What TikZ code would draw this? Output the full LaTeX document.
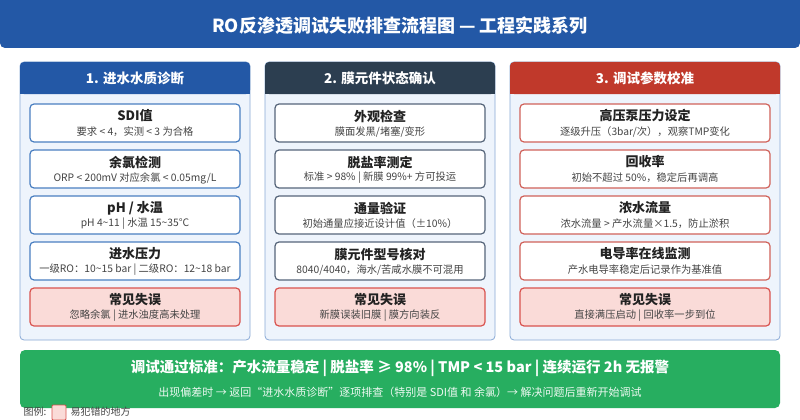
\documentclass[tikz,border=0pt]{standalone}
\usepackage{fontspec}
\setmainfont{Noto Sans CJK SC}
\usetikzlibrary{positioning}
\definecolor{hdrblue}{HTML}{2358A6}
\definecolor{hdrdark}{HTML}{2C3E50}
\definecolor{hdrred}{HTML}{C0392B}
\definecolor{panelbg}{HTML}{EEF4FC}
\definecolor{panelln}{HTML}{8AAAD6}
\definecolor{lnblue}{HTML}{4A7FC1}
\definecolor{lndark}{HTML}{56657A}
\definecolor{lnred}{HTML}{D0625A}
\definecolor{errbg}{HTML}{FADBD8}
\definecolor{errln}{HTML}{D9534F}
\definecolor{okgreen}{HTML}{27AE60}
\definecolor{txt}{HTML}{222222}
\definecolor{subtxt}{HTML}{444444}

\tikzset{
  panel/.style={draw=panelln, fill=panelbg, rounded corners=4pt, line width=0.8pt},
  itembox/.style={draw=#1, fill=white, rounded corners=4pt, line width=1.2pt},
  errbox/.style={draw=errln, fill=errbg, rounded corners=4pt, line width=1.2pt},
  head/.style={font=\fontsize{13}{15}\selectfont\bfseries, text=txt},
  sub/.style={font=\fontsize{10.3}{12}\selectfont, text=subtxt},
}

% one card: x-left, x-right, y-top, colour, title, subtitle
\newcommand{\card}[6]{
  \draw[itembox=#4] (#1,#3) rectangle (#2,#3+38);
  \node[head] at ({(#1+#2)/2},#3+12) {#5};
  \node[sub] at ({(#1+#2)/2},#3+28) {#6};
}
\newcommand{\errcard}[5]{
  \draw[errbox] (#1,#3) rectangle (#2,#3+38);
  \node[head] at ({(#1+#2)/2},#3+12) {#4};
  \node[sub] at ({(#1+#2)/2},#3+28) {#5};
}
\newcommand{\colpanel}[5]{
  \draw[panel] (#1,62) rectangle (#2,340);
  \fill[#3, rounded corners=4pt] (#1,62) rectangle (#2,94);
  \fill[#3] (#1,84) rectangle (#2,94);
  \node[font=\fontsize{13.5}{15}\selectfont\bfseries, text=white] (#5) at ({(#1+#2)/2},78) {#4};
}

\begin{document}
\begin{tikzpicture}[x=1pt, y=-1pt]
  \useasboundingbox (0,0) rectangle (800,420);
  \fill[white] (0,0) rectangle (800,420);

  % title band
  \fill[hdrblue, rounded corners=5pt] (0,0) rectangle (800,48);
  \fill[hdrblue] (0,0) rectangle (800,10);
  \node[font=\fontsize{18}{20}\selectfont\bfseries, text=white] (title) at (400,26) {RO反渗透调试失败排查流程图 — 工程实践系列};

  % column 1
  \colpanel{20}{250}{hdrblue}{1. 进水水质诊断}{colA}
  \card{30}{240}{104}{lnblue}{SDI值}{要求 < 4，实测 < 3 为合格}
  \card{30}{240}{150}{lnblue}{余氯检测}{ORP < 200mV 对应余氯 < 0.05mg/L}
  \card{30}{240}{196}{lnblue}{pH / 水温}{pH 4\textasciitilde11 | 水温 15\textasciitilde35°C}
  \card{30}{240}{242}{lnblue}{进水压力}{一级RO：10\textasciitilde15 bar | 二级RO：12\textasciitilde18 bar}
  \errcard{30}{240}{288}{常见失误}{忽略余氯 | 进水浊度高未处理}

  % column 2
  \colpanel{265}{495}{hdrdark}{2. 膜元件状态确认}{colB}
  \card{275}{485}{104}{lndark}{外观检查}{膜面发黑/堵塞/变形}
  \card{275}{485}{150}{lndark}{脱盐率测定}{标准 > 98\% | 新膜 99\%+ 方可投运}
  \card{275}{485}{196}{lndark}{通量验证}{初始通量应接近设计值（±10\%）}
  \card{275}{485}{242}{lndark}{膜元件型号核对}{8040/4040，海水/苦咸水膜不可混用}
  \errcard{275}{485}{288}{常见失误}{新膜误装旧膜 | 膜方向装反}

  % column 3
  \colpanel{510}{780}{hdrred}{3. 调试参数校准}{colC}
  \card{520}{770}{104}{lnred}{高压泵压力设定}{逐级升压（3bar/次），观察TMP变化}
  \card{520}{770}{150}{lnred}{回收率}{初始不超过 50\%，稳定后再调高}
  \card{520}{770}{196}{lnred}{浓水流量}{浓水流量 > 产水流量×1.5，防止淤积}
  \card{520}{770}{242}{lnred}{电导率在线监测}{产水电导率稳定后记录作为基准值}
  \errcard{520}{770}{288}{常见失误}{直接满压启动 | 回收率一步到位}

  % pass criteria
  \fill[okgreen, rounded corners=5pt] (20,350) rectangle (780,408);
  \node[font=\fontsize{14.5}{16}\selectfont\bfseries, text=white] (pass) at (400,368)
    {调试通过标准：产水流量稳定 | 脱盐率 ≥ 98\% | TMP < 15 bar | 连续运行 2h 无报警};
  \node[font=\fontsize{11}{12}\selectfont, text=white!92!okgreen] (retry) at (400,392)
    {出现偏差时 → 返回“进水水质诊断”逐项排查（特别是 SDI值 和 余氯）→ 解决问题后重新开始调试};

  % legend
  \node[font=\fontsize{10}{11}\selectfont, text=subtxt, anchor=west] (lgd) at (20,412) {图例:};
  \draw[errbox, line width=0.9pt, rounded corners=1pt] (52,405) rectangle (66,420);
  \node[font=\fontsize{10}{11}\selectfont, text=subtxt, anchor=west] (lgdtxt) at (67,412) {易犯错的地方};
\end{tikzpicture}
\end{document}
